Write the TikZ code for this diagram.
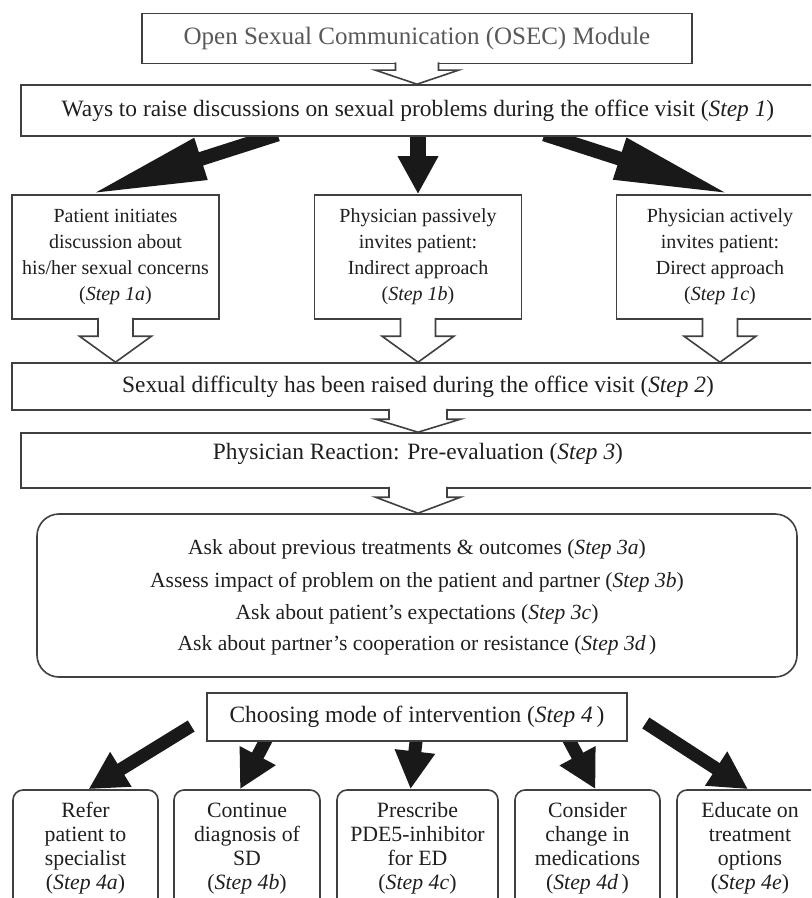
\documentclass[tikz,border=0pt]{standalone}
\usepackage{fontspec}
\setmainfont{Liberation Serif}
\usepackage{tikz}
\usetikzlibrary{arrows.meta, calc, backgrounds}

\definecolor{linegray}{gray}{0.25}
\definecolor{textgray}{gray}{0.12}

% open block arrow from the bottom of #1 down to the top of #2
\newcommand{\openarrow}[5]{%
  \draw[hollow] let \p1=(#1.south), \p2=(#1.south |- #2.north) in
    (\x1-#3,\y1+1pt) -- (\x1-#3,\y2+#5) -- (\x1-#4,\y2+#5) -- (\p2)
    -- (\x1+#4,\y2+#5) -- (\x1+#3,\y2+#5) -- (\x1+#3,\y1+1pt);}

\begin{document}
\begin{tikzpicture}[x=0.5pt,y=-0.5pt,
    box/.style={draw=linegray, line width=0.8pt, fill=white, text=textgray, align=center,
      inner sep=0pt, font=\fontsize{11.7}{14}\selectfont},
    tbox/.style={box, font=\fontsize{10}{13}\selectfont},
    rbox/.style={box, rounded corners=5pt, font=\fontsize{10.9}{12}\selectfont},
    hollow/.style={draw=linegray, line width=0.8pt, fill=white, line join=miter},
    fat/.style={draw=black!90, line width=6.5pt, -{Triangle[length=19pt,width=19pt]}},
    longfat/.style={fat, line width=7pt, shorten <=-4pt, -{Triangle[length=58pt,width=20pt]}}]
  \useasboundingbox (0,0) rectangle (811,898);
  \clip (0,0) rectangle (811,898);

  \node[box, minimum width=275pt, minimum height=25pt, text=black!65,
    font=\fontsize{12.5}{15}\selectfont] (osec) at (417,38.5)
    {Open Sexual Communication (OSEC) Module};
  \node[box, minimum width=397pt, minimum height=25.5pt] (s1) at (418,110.5)
    {Ways to raise discussions on sexual problems during the office visit (\textit{Step 1})};

  \node[tbox, minimum width=103.5pt, minimum height=62pt] (s1a) at (115.5,257)
    {Patient initiates\\discussion about\\his/her sexual concerns\\(\textit{Step 1a})};
  \node[tbox, minimum width=103.5pt, minimum height=62pt] (s1b) at (418,257)
    {Physician passively\\invites patient:\\Indirect approach\\(\textit{Step 1b})};
  \node[tbox, minimum width=103.5pt, minimum height=62pt] (s1c) at (720,257)
    {Physician actively\\invites patient:\\Direct approach\\(\textit{Step 1c})};

  \node[box, minimum width=406pt, minimum height=23.5pt] (s2) at (418,386.5)
    {Sexual difficulty has been raised during the office visit (\textit{Step 2})};
  \node[box, minimum width=397pt, minimum height=27.5pt, text height=8.5pt, text depth=10pt]
    (s3) at (418,460.5) {Physician Reaction: Pre-evaluation (\textit{Step 3})};

  \node[box, rounded corners=11pt, minimum width=380pt, minimum height=81.5pt,
    font=\fontsize{10.8}{16}\selectfont, text depth=0pt] (pre) at (417,595.5)
    {Ask about previous treatments \& outcomes (\textit{Step 3a})\\
     Assess impact of problem on the patient and partner (\textit{Step 3b})\\
     Ask about patient's expectations (\textit{Step 3c})\\
     Ask about partner's cooperation or resistance (\textit{Step 3d\,})};

  \node[box, minimum width=210pt, minimum height=24pt] (s4) at (417,717)
    {Choosing mode of intervention (\textit{Step 4\,})};

  \node[rbox, minimum width=72.5pt, minimum height=62pt, text depth=6pt] (s4a) at (85.5,852)
    {Refer\\patient to\\specialist\\(\textit{Step 4a})};
  \node[rbox, minimum width=73pt, minimum height=62pt, text depth=6pt] (s4b) at (247,852)
    {Continue\\diagnosis of\\SD\\(\textit{Step 4b})};
  \node[rbox, minimum width=80.5pt, minimum height=62pt, text depth=6pt] (s4c) at (417.5,852)
    {Prescribe\\PDE5-inhibitor\\for ED\\(\textit{Step 4c})};
  \node[rbox, minimum width=72.5pt, minimum height=62pt, text depth=6pt] (s4d) at (587.5,852)
    {Consider\\change in\\medications\\(\textit{Step 4d\,})};
  \node[rbox, minimum width=73pt, minimum height=62pt, text depth=6pt] (s4e) at (750,852)
    {Educate on\\treatment\\options\\(\textit{Step 4e})};

  \openarrow{osec}{s1}{10.75pt}{20.75pt}{7pt}
  \openarrow{s1a}{s2}{8.75pt}{18pt}{13pt}
  \openarrow{s1b}{s2}{8.75pt}{18pt}{13pt}
  \openarrow{s1c}{s2}{8.75pt}{18pt}{13pt}
  \openarrow{s2}{s3}{14.5pt}{21.25pt}{6.5pt}
  \openarrow{s3}{pre}{14.5pt}{21.25pt}{8pt}

  \begin{scope}[on background layer]
    \draw[longfat] ($(s1.south)+(-148,0)$) -- ($(s1a.north)+(-25,0)$);
    \draw[fat, line width=8pt, shorten <=-4pt] (s1.south) -- (s1b.north);
    \draw[longfat] ($(s1.south)+(134,0)$) -- ($(s1c.north)+(10,0)$);

    \draw[fat] ($(s4.west)+(-15,9)$) -- ($(s4a.north)+(3,0)$);
    \draw[fat, shorten <=-4pt] ($(s4.south)+(-152,0)$) -- ($(s4b.north)+(-7,0)$);
    \draw[fat, shorten <=-4pt] ($(s4.south)+(-1,0)$) -- ($(s4c.north)+(-7,0)$);
    \draw[fat, shorten <=-4pt] ($(s4.south)+(153,0)$) -- ($(s4d.north)+(8,0)$);
    \draw[fat] ($(s4.east)+(18,6)$) -- ($(s4e.north)+(-2,0)$);
  \end{scope}
\end{tikzpicture}
\end{document}
